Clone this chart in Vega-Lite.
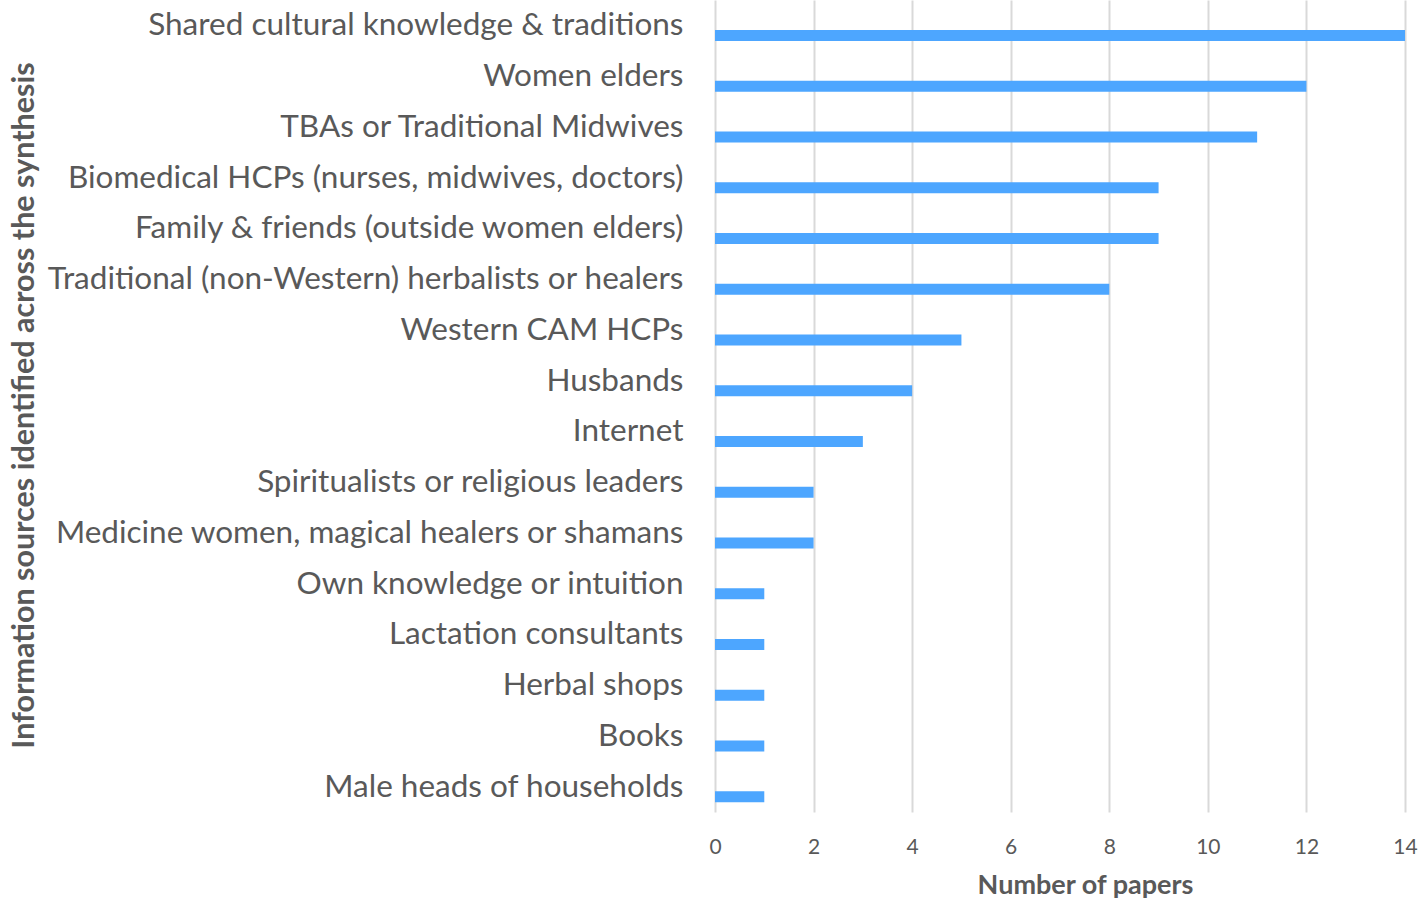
{
  "$schema": "https://vega.github.io/schema/vega-lite/v6.json",
  "width": 690,
  "height": 812,
  "autosize": {"type": "none"},
  "padding": {"left": 715, "top": 0, "right": 13, "bottom": 87},
  "background": "white",
  "data": {
    "values": [
      {"source": "Shared cultural knowledge & traditions", "papers": 14},
      {"source": "Women elders", "papers": 12},
      {"source": "TBAs or Traditional Midwives", "papers": 11},
      {"source": "Biomedical HCPs (nurses, midwives, doctors)", "papers": 9},
      {"source": "Family & friends (outside women elders)", "papers": 9},
      {"source": "Traditional (non-Western) herbalists or healers", "papers": 8},
      {"source": "Western CAM HCPs", "papers": 5},
      {"source": "Husbands", "papers": 4},
      {"source": "Internet", "papers": 3},
      {"source": "Spiritualists or religious leaders", "papers": 2},
      {"source": "Medicine women, magical healers or shamans", "papers": 2},
      {"source": "Own knowledge or intuition", "papers": 1},
      {"source": "Lactation consultants", "papers": 1},
      {"source": "Herbal shops", "papers": 1},
      {"source": "Books", "papers": 1},
      {"source": "Male heads of households", "papers": 1}
    ]
  },
  "mark": {"type": "bar", "color": "#4da6ff", "size": 11, "yOffset": 10},
  "encoding": {
    "y": {
      "field": "source",
      "type": "nominal",
      "sort": null,
      "scale": {"paddingInner": 0, "paddingOuter": 0},
      "axis": {
        "title": "Information sources identified across the synthesis",
        "titleFont": "Lato",
        "titleFontSize": 30.5,
        "titleFontWeight": "bold",
        "titleColor": "#595959",
        "titleAngle": 270,
        "titleAlign": "center",
        "titleBaseline": "alphabetic",
        "titleX": -682,
        "titleY": 405,
        "labelFont": "Lato",
        "labelFontSize": 31.5,
        "labelColor": "#595959",
        "labelPadding": 32,
        "labelBaseline": "alphabetic",
        "labelOffset": 10,
        "labelLimit": 0,
        "ticks": false,
        "domain": false
      }
    },
    "x": {
      "field": "papers",
      "type": "quantitative",
      "scale": {"domain": [0, 14], "nice": false},
      "axis": {
        "values": [0, 2, 4, 6, 8, 10, 12, 14],
        "grid": true,
        "gridColor": "#d9d9d9",
        "gridWidth": 2,
        "domain": false,
        "ticks": false,
        "labelFlush": false,
        "labelFont": "Lato",
        "labelFontSize": 21,
        "labelColor": "#595959",
        "labelPadding": 24,
        "labelBaseline": "top",
        "title": "Number of papers",
        "titleFont": "Lato",
        "titleFontSize": 27,
        "titleFontWeight": "bold",
        "titleColor": "#595959",
        "titleAlign": "center",
        "titleBaseline": "alphabetic",
        "titleX": 370,
        "titleY": 81
      }
    }
  },
  "config": {"view": {"stroke": null}}
}
